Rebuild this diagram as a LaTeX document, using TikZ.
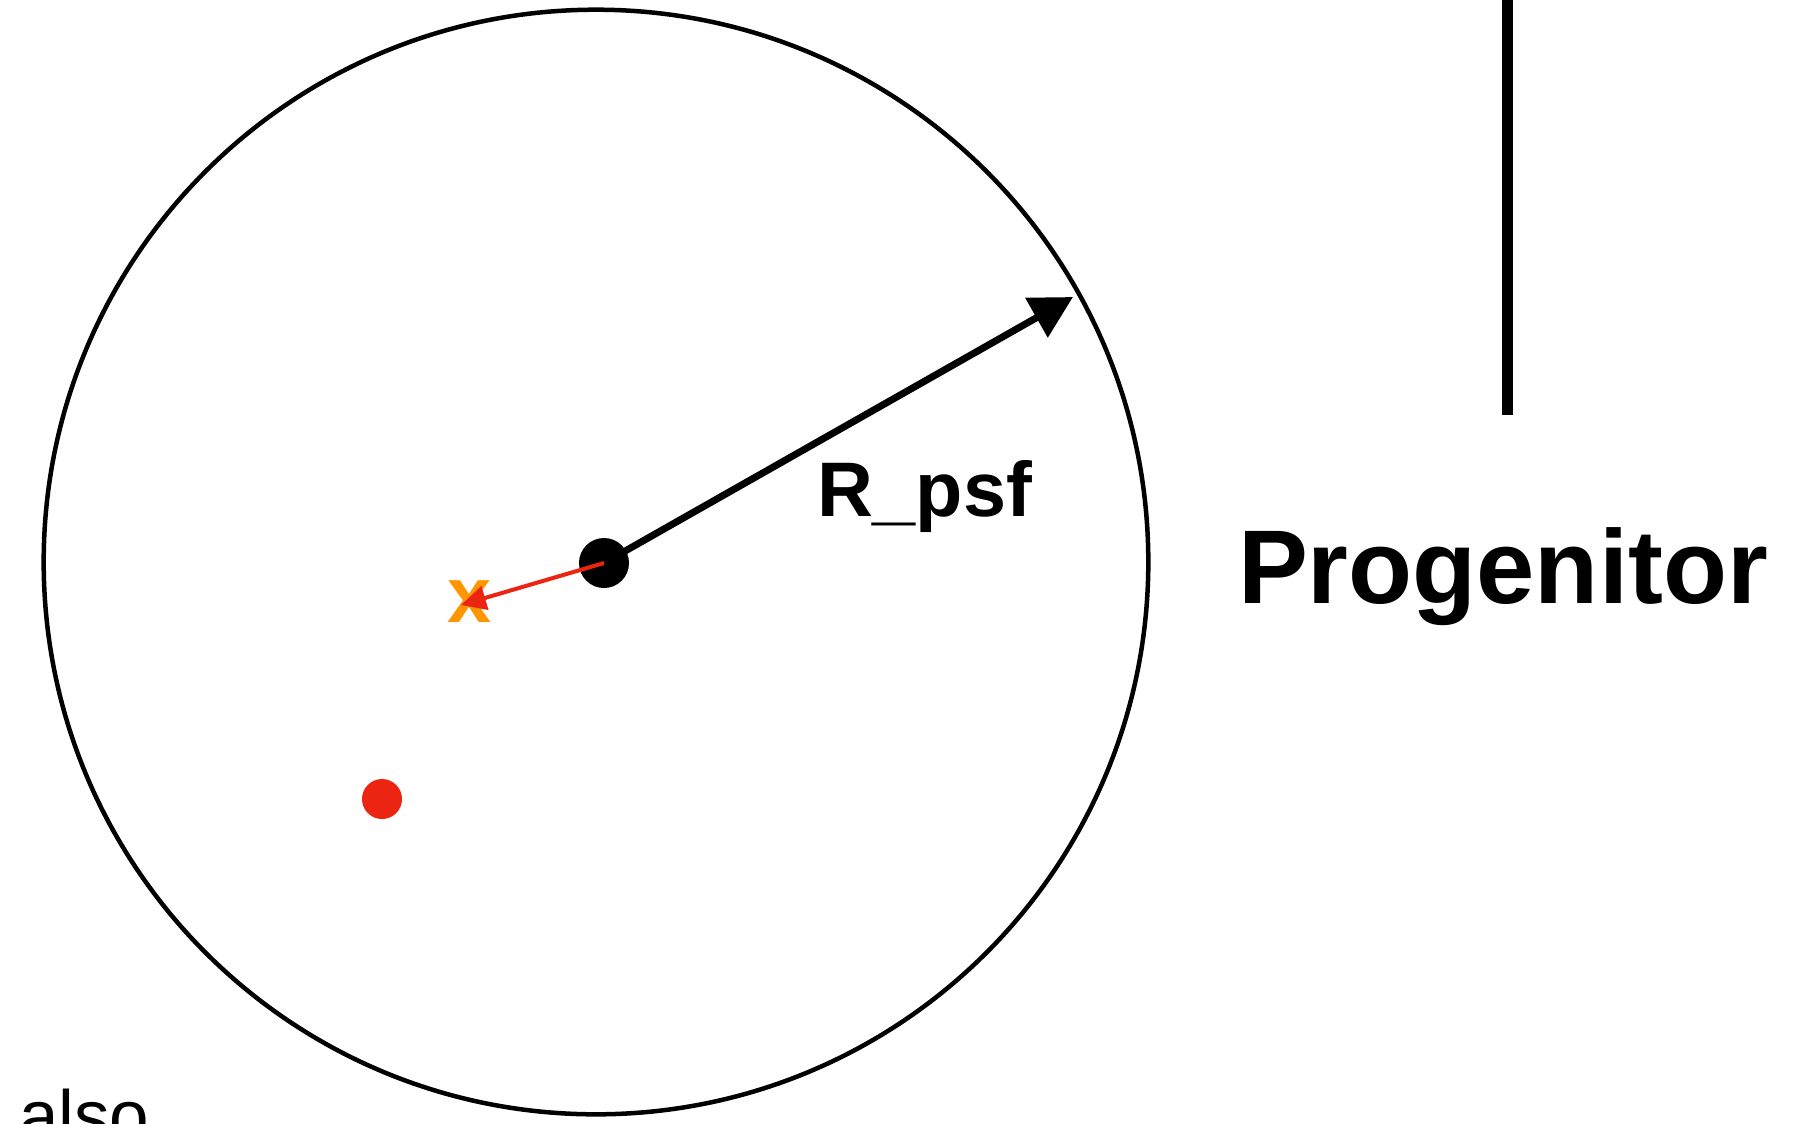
\documentclass[tikz,border=0pt]{standalone}
\usepackage{fontspec}
\setmainfont{Liberation Sans}
\usetikzlibrary{arrows.meta}
\definecolor{xorange}{RGB}{255,149,0}
\definecolor{xred}{RGB}{236,36,18}
\tikzset{
  lbl/.style={inner sep=0pt, outer sep=0pt, anchor=base west, font=\bfseries},
  dotnode/.style={circle, inner sep=0pt, outer sep=0pt, minimum size=#1},
}
\begin{document}
\begin{tikzpicture}[x=0.01cm, y=-0.01cm]
\useasboundingbox (0,0) rectangle (1793,1123);
% big circle
\node[circle, draw=black, line width=0.045cm, minimum size=11.04cm, inner sep=0pt] (psf) at (596,562) {};
% centre dot
\node[dotnode=0.5cm, fill=black] (c) at (604,563) {};
% red dot
\node[dotnode=0.4cm, fill=xred] (rd) at (382,799) {};
% orange x
\node[inner sep=0pt, outer sep=0pt, text=xorange, font=\bfseries\fontsize{22.5pt}{22.5pt}\selectfont] (xm) at (469,602) {x};
% coordinates for arrow tips
\coordinate (tip) at (1073,297);
\coordinate (rtip) at (461,605);
% radius arrow
\draw[line width=0.07cm, -{Triangle[length=0.42cm, width=0.44cm]}] (c.center) -- (tip);
% red arrow
\draw[xred, line width=0.04cm, -{Triangle[length=0.25cm, width=0.24cm]}] (c.center) -- (rtip);
% labels
\node[lbl, font=\bfseries\fontsize{22pt}{22pt}\selectfont] (rpsf) at (817,516) {R\_psf};
\node[lbl, font=\bfseries\fontsize{29.8pt}{29.8pt}\selectfont] (prog) at (1238,603) {Progenitor};
\node[lbl, font=\fontsize{20.2pt}{20.2pt}\selectfont] (also) at (19,1140) {also};
% vertical line
\coordinate (vtop) at (1507,0);
\coordinate (vbot) at (1507,415);
\draw[line width=0.11cm] (vtop) -- (vbot);
\end{tikzpicture}
\end{document}
